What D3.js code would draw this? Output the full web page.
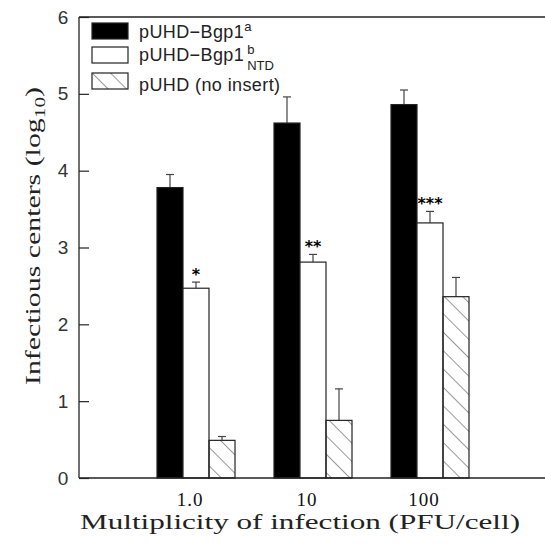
<!DOCTYPE html>
<html lang="en">
<head>
<meta charset="UTF-8">
<title>Infectious centers</title>
<script src="https://d3js.org/d3.v7.min.js"></script>
<style>
  body { margin: 0; background: #fff; }
  svg { display: block; }
</style>
</head>
<body>
<div id="chart"></div>
<script>
// data
const moiLabels = ["1.0", "10", "100"];
const seriesNames = ["bgp1a", "bgp1bNtd", "noInsert"];
const bgp1a = [3.78, 4.62, 4.86];
const bgp1aErr = [0.17, 0.34, 0.19];
const bgp1bNtd = [2.47, 2.81, 3.32];
const bgp1bNtdErr = [0.08, 0.10, 0.15];
const noInsert = [0.49, 0.75, 2.36];
const noInsertErr = [0.05, 0.41, 0.25];
const stars = ["*", "**", "***"];
const yTicks = [0, 1, 2, 3, 4, 5, 6];

const W = 545, H = 544;
const plotLeft = 79, plotTop = 17, plotBottom = 478;
const groupStep = 117;
const serif = "'Liberation Serif', 'DejaVu Serif', serif";
const sans = "'Liberation Sans', Arial, sans-serif";

const svg = d3.select("#chart").append("svg")
    .attr("width", W).attr("height", H);

// hatch pattern
const defs = svg.append("defs");
defs.append("pattern")
    .attr("id", "hatch")
    .attr("patternUnits", "userSpaceOnUse")
    .attr("width", 13).attr("height", 13)
    .attr("patternTransform", "rotate(-45)")
  .append("line")
    .attr("x1", 0).attr("y1", 0).attr("x2", 0).attr("y2", 13)
    .attr("stroke", "#333").attr("stroke-width", 1);

const y = d3.scaleLinear().domain([0, 6]).range([plotBottom, plotTop]);
const x = d3.scaleBand()
    .domain(moiLabels)
    .range([plotLeft + groupStep * 0.5, plotLeft + groupStep * 3.5]);
const xs = d3.scaleBand().domain(seriesNames).range([-39, 39]);

const fills = { bgp1a: "#000", bgp1bNtd: "#fff", noInsert: "url(#hatch)" };
const values = { bgp1a: bgp1a, bgp1bNtd: bgp1bNtd, noInsert: noInsert };
const errs = { bgp1a: bgp1aErr, bgp1bNtd: bgp1bNtdErr, noInsert: noInsertErr };

const rows = [];
moiLabels.forEach((m, i) => {
  seriesNames.forEach(s => rows.push({ moi: m, s: s, v: values[s][i], e: errs[s][i] }));
});

// error bars (drawn first so bar tops sit over them)
const eb = svg.append("g");
rows.forEach(d => {
  const cx = x(d.moi) + x.bandwidth() / 2 + xs(d.s) + xs.bandwidth() / 2;
  eb.append("line")
    .attr("x1", cx).attr("x2", cx)
    .attr("y1", y(d.v)).attr("y2", y(d.v + d.e))
    .attr("stroke", "#444").attr("stroke-width", 1.2);
  eb.append("line")
    .attr("x1", cx - 4).attr("x2", cx + 4)
    .attr("y1", y(d.v + d.e)).attr("y2", y(d.v + d.e))
    .attr("stroke", "#444").attr("stroke-width", 1.2);
});

// bars
svg.append("g").selectAll("rect")
  .data(rows)
  .join("rect")
    .attr("x", d => x(d.moi) + x.bandwidth() / 2 + xs(d.s))
    .attr("y", d => y(d.v))
    .attr("width", xs.bandwidth())
    .attr("height", d => y(0) - y(d.v))
    .attr("fill", d => fills[d.s])
    .attr("stroke", "#222")
    .attr("stroke-width", 1.2);

// significance stars over the NTD bars
svg.append("g").selectAll("text")
  .data(moiLabels)
  .join("text")
    .attr("x", d => x(d) + x.bandwidth() / 2 + xs("bgp1bNtd") + xs.bandwidth() / 2)
    .attr("y", (d, i) => y(bgp1bNtd[i] + bgp1bNtdErr[i]) - 2)
    .attr("text-anchor", "middle")
    .style("font-family", "'DejaVu Sans', sans-serif")
    .style("font-weight", "bold")
    .style("font-size", "16px")
    .text((d, i) => stars[i]);

// frame: left axis, top line, bottom line
const frame = svg.append("g").attr("stroke", "#222").attr("stroke-width", 1.3);
frame.append("line").attr("x1", plotLeft).attr("x2", plotLeft).attr("y1", plotTop).attr("y2", plotBottom);
frame.append("line").attr("x1", plotLeft).attr("x2", W).attr("y1", plotTop).attr("y2", plotTop);
frame.append("line").attr("x1", plotLeft).attr("x2", W).attr("y1", plotBottom).attr("y2", plotBottom);

// y axis with inward ticks
const yAxis = svg.append("g")
    .attr("transform", `translate(${plotLeft},0)`)
    .call(d3.axisRight(y).tickValues(yTicks).tickSize(10).tickFormat(d3.format("d")));
yAxis.select(".domain").remove();
yAxis.selectAll(".tick line").attr("stroke", "#222").attr("stroke-width", 1.2);
yAxis.selectAll(".tick text")
    .attr("x", -16)
    .attr("text-anchor", "middle")
    .attr("fill", "#333")
    .style("font-family", sans)
    .style("font-size", "19px");

// x axis labels
const xAxis = svg.append("g")
    .attr("transform", `translate(0,${plotBottom})`)
    .call(d3.axisBottom(x).tickSize(0).tickPadding(12));
xAxis.select(".domain").remove();
xAxis.selectAll(".tick text")
    .attr("dx", -6)
    .attr("dy", "0.85em")
    .attr("fill", "#111")
    .style("font-family", serif)
    .style("font-size", "19px")
    .style("letter-spacing", "1px");

// axis titles
svg.append("text")
    .attr("x", 300).attr("y", 529)
    .attr("text-anchor", "middle")
    .attr("fill", "#222")
    .attr("textLength", 440)
    .attr("lengthAdjust", "spacingAndGlyphs")
    .style("font-family", serif)
    .style("font-size", "21px")
    .text("Multiplicity of infection (PFU/cell)");

const yt = svg.append("text")
    .attr("transform", "translate(40,236) rotate(-90)")
    .attr("text-anchor", "middle")
    .attr("fill", "#222")
    .attr("textLength", 298)
    .attr("lengthAdjust", "spacingAndGlyphs")
    .style("font-family", serif)
    .style("font-size", "21px");
yt.append("tspan").text("Infectious centers (log");
yt.append("tspan").attr("dy", 5).style("font-size", "15px").text("10");
yt.append("tspan").attr("dy", -5).text(")");

// legend
const legend = svg.append("g").style("font-family", sans);
const swatchY = [31, 55, 81];
const textY = [38, 61, 91];
seriesNames.forEach((s, i) => {
  legend.append("rect")
    .attr("x", 92).attr("y", swatchY[i] - 8)
    .attr("width", 36).attr("height", 16)
    .attr("fill", fills[s])
    .attr("stroke", "#222").attr("stroke-width", 1.2);
});
const lt = (i) => legend.append("text")
    .attr("x", 139).attr("y", textY[i])
    .attr("fill", "#222")
    .style("font-size", "18px")
    .style("letter-spacing", "0.4px");

const l0 = lt(0);
l0.append("tspan").text("pUHD\u2212Bgp1");
l0.append("tspan").attr("dy", -7).style("font-size", "13px").text("a");

const l1 = lt(1).text("pUHD\u2212Bgp1");
const w1 = l1.node().getComputedTextLength();
legend.append("text")
    .attr("x", 139 + w1 + 3).attr("y", textY[1] - 7)
    .attr("fill", "#222").style("font-size", "13px").text("b");
legend.append("text")
    .attr("x", 139 + w1 + 3).attr("y", textY[1] + 9)
    .attr("fill", "#222").style("font-size", "13px").text("NTD");

lt(2).text("pUHD (no insert)");
</script>
</body>
</html>
